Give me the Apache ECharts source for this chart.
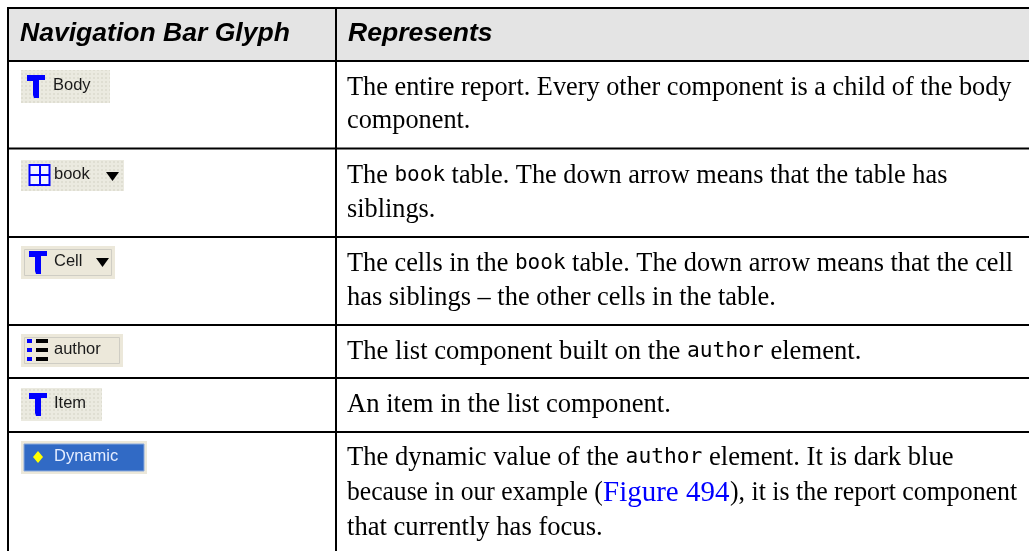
<!DOCTYPE html>
<html><head><meta charset="utf-8">
<style>html,body{margin:0;padding:0;background:#fff}#c{width:1029px;height:551px}</style>
<script src="https://cdn.jsdelivr.net/npm/echarts@6/dist/echarts.min.js"></script></head>
<body><div id="c"></div>
<script>
const headers = ['Navigation Bar Glyph', 'Represents'];
const glyphLabels = ['Body', 'book', 'Cell', 'author', 'Item', 'Dynamic'];
const glyphIcons = ['text', 'table', 'text', 'list', 'text', 'dynamic'];
const glyphArrows = [false, true, true, false, false, false];
const row1 = [[['t','The entire report. Every other component is a child of the body']], [['t','component.']]];
const row2 = [[['t','The '],['m','book'],['t',' table. The down arrow means that the table has']], [['t','siblings.']]];
const row3 = [[['t','The cells in the '],['m','book'],['t',' table. The down arrow means that the cell']], [['t','has siblings \u2013 the other cells in the table.']]];
const row4 = [[['t','The list component built on the '],['m','author'],['t',' element.']]];
const row5 = [[['t','An item in the list component.']]];
const row6 = [[['t','The dynamic value of the '],['m','author'],['t',' element. It is dark blue']],
              [['t','because in our example ('],['l','Figure 494'],['t','), it is the report component']],
              [['t','that currently has focus.']]];
const rows = [row1, row2, row3, row4, row5, row6];

const rowLineY = [61, 148.5, 237, 325, 378, 432];
const glyphBox = [[21,70,89,33],[21,160,103,31],[21,246,94,33],[21,334,102,33],[21,388,81,33],[21,441,126,33]];
const lineMid = [[88,121],[176,210],[264,298],[352],[405],[458,493,528]];
const lineScale = [[1,1],[1,1],[1,1.004],[1.012],[1.0125],[1.012,1,1.012]];
const black = '#000', blue = '#0000ff';
const els = [];
const rect = (x,y,w,h,fill,extra={}) => els.push({type:'rect',shape:{x,y,width:w,height:h},style:Object.assign({fill},extra),silent:true});
const poly = (points,fill) => els.push({type:'polygon',shape:{points},style:{fill},silent:true});
const label = (x,y,text,font,fill) => els.push({type:'text',x,y,silent:true,style:{text,x:0,y:0,font,fill,align:'left',verticalAlign:'middle'}});

const dots = document.createElement('canvas'); dots.width = dots.height = 4;
const dc = dots.getContext('2d');
dc.fillStyle = '#ebeae0'; dc.fillRect(0,0,4,4);
dc.fillStyle = '#dfded2'; dc.fillRect(1,1,2,2);
const dotFill = {image:dots,repeat:'repeat'};

rect(8,8,1021,53,'#e4e4e4');
rowLineY.forEach(y => rect(8,y-1,1021,2,black));
rect(8,7,1021,2,black);
rect(7,7,2,544,black);
rect(335,7,2,544,black);
label(20,34,headers[0],'italic bold 26.55px "Liberation Sans"',black);
label(348,34,headers[1],'italic bold 26.55px "Liberation Sans"',black);

glyphLabels.forEach((name,i) => {
  const [x,y,w,h] = glyphBox[i];
  const tan = i===2||i===3||i===5;
  rect(x,y,w,h, tan?'#ece8da':dotFill);
  if(tan) rect(x+3.5,y+3.5,w-7,h-7,'transparent',{stroke:'#cfcdc4',lineWidth:1});
  const cy = y+h/2-1;
  const kind = glyphIcons[i];
  if(kind==='text'){
    const ox = x+(i===0?6:8), oy = y+5;
    poly([[ox,oy],[ox+18,oy],[ox+18,oy+5],[ox+12,oy+5],[ox+12,oy+23],[ox+7,oy+23],[ox+6,oy+20],[ox+6,oy+6],[ox,oy+6]],blue);
  } else if(kind==='table'){
    rect(x+8.5,y+5,20,20,'#f4f4ff',{stroke:blue,lineWidth:2});
    rect(x+8,y+14,21,2,blue);
    rect(x+18,y+5,2,20,blue);
  } else if(kind==='list'){
    [7,16,25].forEach(d=>{rect(x+6,y+d-2,5,4,blue);rect(x+15,y+d-2,12,4,black);});
  } else {
    rect(x+3,y+3,w-6,h-6,'#316ac5',{stroke:'#8aa9dc',lineWidth:1});
    poly([[x+17,y+10],[x+22,y+16],[x+17,y+22],[x+12,y+16]],'#ffff00');
  }
  const tx = x+(i===0?32:33);
  label(tx,cy,name,'16.5px "Liberation Sans"',kind==='dynamic'?'#e4edff':'#1a1a1a');
  if(glyphArrows[i]){
    const ax = x+w-(i===2?13:12);
    poly([[ax-6,y+12],[ax+7,y+12],[ax+0.5,y+21]],black);
  }
});

const rich = {
  t:{font:'26.3px "Liberation Serif"',fill:black},
  m:{font:'21px "DejaVu Sans Mono"',fill:black},
  l:{font:'29px "Liberation Serif"',fill:blue}
};
const put = (segs,x,y,scaleX) => els.push({type:'text',x,y,scaleX,silent:true,style:{
  text:segs.map(([k,s]) => '{'+k+'|'+s+'}').join(''),x:0,y:0,rich,align:'left',verticalAlign:'middle'}});
const fittedLine = {r:5,l:1,starts:[347,603,730],scales:[0.973,1,0.983]};
rows.forEach((lines,r) => lines.forEach((segs,l) => {
  if(r===fittedLine.r && l===fittedLine.l){
    segs.forEach((seg,s) => put([seg],fittedLine.starts[s],lineMid[r][l],fittedLine.scales[s]));
  } else {
    put(segs,347,lineMid[r][l],lineScale[r][l]);
  }
}));

const chart = echarts.init(document.getElementById('c'),null,{renderer:'canvas',width:1029,height:551});
chart.setOption({animation:false,backgroundColor:'#fff',graphic:{elements:els}});
</script></body></html>
